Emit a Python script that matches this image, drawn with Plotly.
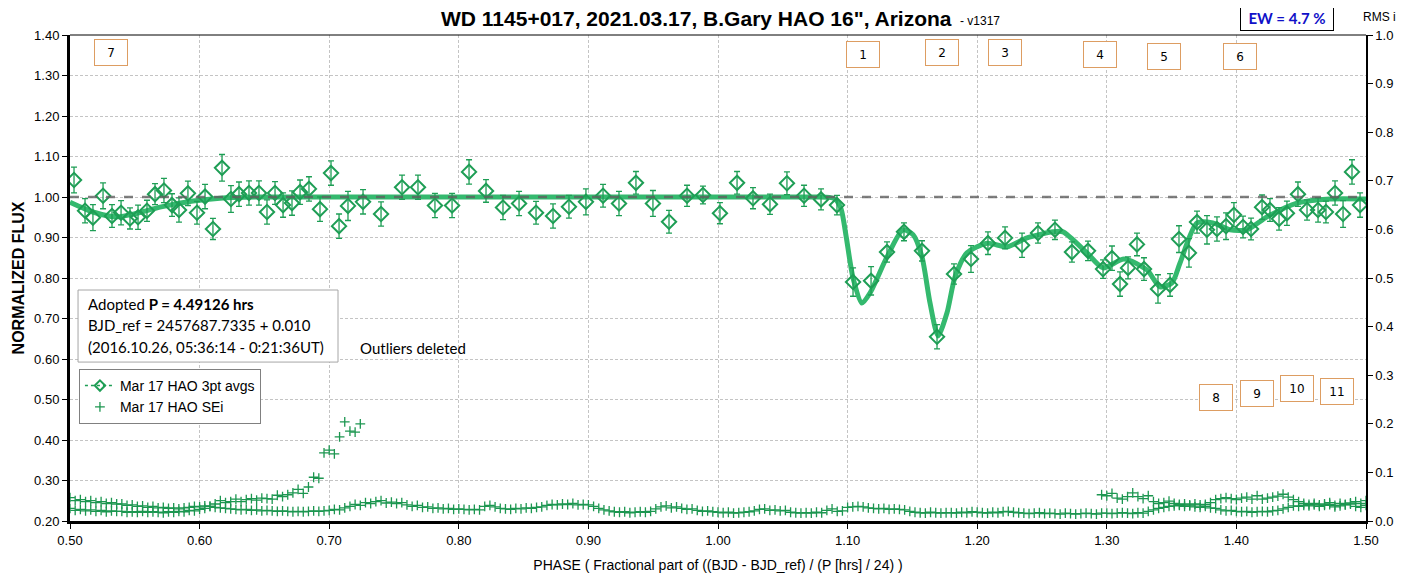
import numpy as np
import plotly.graph_objects as go

# ---------------- data ----------------
avg_phase = [0.5031, 0.5116, 0.5177, 0.5255, 0.5324, 0.5394, 0.5463, 0.5525, 0.5594, 0.5656,
             0.5725, 0.5787, 0.5841, 0.5910, 0.5980, 0.6042, 0.6103, 0.6173, 0.6242, 0.6304,
             0.6381, 0.6458, 0.6520, 0.6582, 0.6644, 0.6713, 0.6775, 0.6844, 0.6929, 0.7014,
             0.7076, 0.7145, 0.7261, 0.7400, 0.7562, 0.7685, 0.7816, 0.7948, 0.8079, 0.8210,
             0.8341, 0.8465, 0.8596, 0.8727, 0.8850, 0.8981, 0.9113, 0.9236, 0.9367, 0.9498,
             0.9622, 0.9761, 0.9884, 1.0015, 1.0147, 1.0270, 1.0401, 1.0532, 1.0664, 1.0795,
             1.0918, 1.1042, 1.1181, 1.1304, 1.1435, 1.1574, 1.1690, 1.1821, 1.1952, 1.2083,
             1.2215, 1.2346, 1.2469, 1.2600, 1.2731, 1.2855, 1.2971, 1.3040, 1.3102, 1.3164,
             1.3233, 1.3287, 1.3395, 1.3488, 1.3557, 1.3634, 1.3696, 1.3773, 1.3850, 1.3920,
             1.3981, 1.4051, 1.4113, 1.4198, 1.4259, 1.4329, 1.4390, 1.4475, 1.4545, 1.4630,
             1.4691, 1.4761, 1.4823, 1.4892, 1.4954]
avg_flux = [1.042, 0.966, 0.949, 1.003, 0.953, 0.961, 0.947, 0.950, 0.966, 1.007,
            1.016, 0.980, 0.968, 1.009, 0.961, 1.001, 0.921, 1.072, 0.995, 1.007,
            1.010, 1.010, 0.963, 1.010, 0.980, 0.985, 1.012, 1.020, 0.970, 1.059,
            0.928, 0.978, 0.988, 0.958, 1.024, 1.024, 0.979, 0.979, 1.062, 1.015,
            0.974, 0.984, 0.961, 0.953, 0.976, 0.988, 1.003, 0.984, 1.035, 0.984,
            0.939, 1.003, 1.005, 0.960, 1.035, 0.997, 0.982, 1.034, 1.003, 0.994,
            0.980, 0.790, 0.793, 0.864, 0.914, 0.867, 0.655, 0.810, 0.847, 0.886,
            0.899, 0.881, 0.911, 0.919, 0.864, 0.867, 0.822, 0.849, 0.785, 0.825,
            0.883, 0.822, 0.773, 0.783, 0.896, 0.862, 0.938, 0.919, 0.921, 0.928,
            0.956, 0.926, 0.921, 0.975, 0.968, 0.946, 0.960, 1.007, 0.968, 0.968,
            0.963, 1.010, 0.958, 1.062, 0.980]
avg_err = [0.032, 0.030, 0.032, 0.032, 0.028, 0.030, 0.026, 0.030, 0.026, 0.026,
           0.030, 0.028, 0.030, 0.030, 0.028, 0.030, 0.026, 0.033, 0.033, 0.030,
           0.030, 0.030, 0.030, 0.028, 0.030, 0.030, 0.030, 0.030, 0.030, 0.030,
           0.030, 0.036, 0.030, 0.030, 0.030, 0.030, 0.030, 0.030, 0.030, 0.028,
           0.030, 0.030, 0.028, 0.030, 0.028, 0.032, 0.028, 0.030, 0.028, 0.032,
           0.028, 0.026, 0.022, 0.026, 0.028, 0.026, 0.025, 0.028, 0.026, 0.026,
           0.024, 0.035, 0.035, 0.025, 0.022, 0.025, 0.030, 0.025, 0.033, 0.028,
           0.027, 0.030, 0.025, 0.024, 0.025, 0.024, 0.023, 0.030, 0.030, 0.027,
           0.028, 0.028, 0.035, 0.028, 0.033, 0.035, 0.027, 0.035, 0.030, 0.033,
           0.030, 0.027, 0.027, 0.030, 0.028, 0.028, 0.030, 0.030, 0.025, 0.030,
           0.027, 0.030, 0.033, 0.030, 0.030]

model_phase = [0.5000, 0.5177, 0.5363, 0.5517, 0.5694, 0.5949, 0.6157, 0.6466, 0.7000,
               0.7500, 0.8000, 0.8500, 0.9000, 0.9500, 1.0000, 1.0500, 1.0750, 1.0860,
               1.0903, 1.0950, 1.0990, 1.1042, 1.1111, 1.1173, 1.1304, 1.1427, 1.1505,
               1.1574, 1.1636, 1.1698, 1.1767, 1.1829, 1.1921, 1.2076, 1.2230, 1.2384,
               1.2585, 1.2662, 1.2847, 1.2971, 1.3133, 1.3310, 1.3410, 1.3503, 1.3565,
               1.3696, 1.3819, 1.3951, 1.4082, 1.4236, 1.4468, 1.4722, 1.5000]
model_flux = [0.987, 0.963, 0.951, 0.960, 0.975, 0.990, 0.997, 1.000, 1.000,
              1.000, 1.000, 1.000, 1.000, 1.000, 1.000, 1.000, 1.000, 0.999,
              0.995, 0.970, 0.900, 0.800, 0.738, 0.763, 0.852, 0.919, 0.907,
              0.852, 0.738, 0.657, 0.714, 0.803, 0.862, 0.886, 0.877, 0.899,
              0.914, 0.914, 0.862, 0.825, 0.847, 0.820, 0.778, 0.788, 0.837,
              0.936, 0.936, 0.919, 0.919, 0.951, 0.985, 0.995, 0.995]

# SE (RMS i) values, three passes through phase
sei_b_start, sei_b_end = 0.500, 1.500
sei_b = [0.048, 0.042, 0.044, 0.040, 0.042, 0.038, 0.040, 0.036, 0.038, 0.035,
         0.035, 0.032, 0.033, 0.030, 0.031, 0.028, 0.030, 0.027, 0.028, 0.026,
         0.027, 0.025, 0.027, 0.028, 0.030, 0.029, 0.031, 0.030, 0.028, 0.027,
         0.026, 0.025, 0.024, 0.023, 0.024, 0.022, 0.023, 0.021, 0.022, 0.021,
         0.020, 0.021, 0.020, 0.019, 0.020, 0.019, 0.020, 0.021, 0.020, 0.021,
         0.022, 0.024, 0.023, 0.027, 0.030, 0.034, 0.032, 0.038, 0.036, 0.040,
         0.042, 0.037, 0.039, 0.036, 0.038, 0.033, 0.030, 0.032, 0.028, 0.029,
         0.026, 0.027, 0.025, 0.026, 0.024, 0.025, 0.024, 0.023, 0.024, 0.023,
         0.030, 0.032, 0.029, 0.026, 0.025, 0.024, 0.026, 0.025, 0.027, 0.026,
         0.028, 0.029, 0.032, 0.034, 0.033, 0.035, 0.034, 0.036, 0.033, 0.034,
         0.033, 0.030, 0.026, 0.023, 0.021, 0.019, 0.018, 0.019, 0.017, 0.018,
         0.019, 0.018, 0.020, 0.025, 0.029, 0.031, 0.027, 0.029, 0.026, 0.024,
         0.025, 0.022, 0.020, 0.021, 0.019, 0.018, 0.017, 0.018, 0.016, 0.017,
         0.018, 0.019, 0.021, 0.024, 0.025, 0.022, 0.023, 0.021, 0.022, 0.018,
         0.017, 0.016, 0.017, 0.016, 0.018, 0.017, 0.022, 0.025, 0.020, 0.021,
         0.028, 0.029, 0.030, 0.029, 0.027, 0.026, 0.025, 0.026, 0.024, 0.025,
         0.024, 0.023, 0.020, 0.018, 0.017, 0.016, 0.018, 0.017, 0.016, 0.017,
         0.017, 0.016, 0.018, 0.017, 0.019, 0.018, 0.017, 0.016, 0.018, 0.017,
         0.019, 0.020, 0.018, 0.017, 0.016, 0.015, 0.016, 0.017, 0.015, 0.016,
         0.015, 0.014, 0.016, 0.015, 0.014, 0.015, 0.016, 0.015, 0.014, 0.016,
         0.016, 0.015, 0.016, 0.017, 0.016, 0.015, 0.017, 0.016, 0.020, 0.023,
         0.026, 0.028, 0.030, 0.031, 0.032, 0.030, 0.031, 0.029, 0.028, 0.030,
         0.027, 0.026, 0.023, 0.021, 0.022, 0.020, 0.019, 0.020, 0.018, 0.019,
         0.020, 0.019, 0.021, 0.022, 0.025, 0.028, 0.031, 0.030, 0.032, 0.031,
         0.033, 0.030, 0.032, 0.034, 0.029, 0.031, 0.033, 0.035, 0.030, 0.028, 0.032]
sei_a_start, sei_a_end = 1.296, 1.500
sei_a = [0.054, 0.052, 0.057, 0.047, 0.045, 0.050, 0.058, 0.050, 0.046, 0.052,
         0.040, 0.036, 0.038, 0.041, 0.036, 0.034, 0.035, 0.033, 0.035, 0.033,
         0.034, 0.038, 0.044, 0.046, 0.048, 0.046, 0.044, 0.047, 0.049, 0.045,
         0.052, 0.045, 0.047, 0.049, 0.051, 0.055, 0.049, 0.044, 0.040, 0.036,
         0.034, 0.036, 0.033, 0.035, 0.038, 0.032, 0.036, 0.034, 0.037, 0.040, 0.036, 0.042]
sei_c_start, sei_c_end = 0.500, 0.724
sei_c = [0.026, 0.022, 0.024, 0.021, 0.023, 0.020, 0.022, 0.019, 0.021, 0.020,
         0.020, 0.018, 0.019, 0.018, 0.020, 0.018, 0.019, 0.018, 0.017, 0.019,
         0.018, 0.020, 0.019, 0.022, 0.021, 0.024, 0.026, 0.030, 0.035, 0.042,
         0.038, 0.040, 0.045, 0.040, 0.044, 0.046, 0.043, 0.047, 0.046, 0.045,
         0.053, 0.050, 0.054, 0.058, 0.065, 0.057, 0.070, 0.090, 0.088, 0.140,
         0.146, 0.138, 0.173, 0.204, 0.185, 0.183, 0.200]

box_labels = ["7", "1", "2", "3", "4", "5", "6", "8", "9", "10", "11"]
box_phase = [0.5316, 1.1119, 1.1728, 1.2215, 1.2948, 1.3441, 1.4028, 1.3843, 1.4159, 1.4468, 1.4776]
box_flux = [1.358, 1.353, 1.356, 1.358, 1.351, 1.348, 1.346, 0.506, 0.514, 0.526, 0.521]

# ---------------- figure ----------------
DIAM = "#1e9e55"
CURVE = "#34b96e"
SEC = "#1c9650"
ARIAL = "Liberation Sans, Arial, sans-serif"
CAL = "Lato, sans-serif"

sei_x = (list(np.linspace(sei_b_start, sei_b_end, len(sei_b)))
         + list(np.linspace(sei_a_start, sei_a_end, len(sei_a)))
         + list(np.linspace(sei_c_start, sei_c_end, len(sei_c))))
sei_y = sei_b + sei_a + sei_c

fig = go.Figure()

fig.add_trace(go.Scatter(x=model_phase, y=model_flux, mode="lines",
                         line=dict(color=CURVE, width=5, shape="spline", smoothing=0.7),
                         showlegend=False, hoverinfo="skip"))

fig.add_trace(go.Scatter(x=avg_phase, y=avg_flux, mode="markers",
                         marker=dict(symbol="diamond-open", size=11, color=DIAM,
                                     line=dict(width=2, color=DIAM)),
                         error_y=dict(type="data", array=avg_err, color=DIAM,
                                      thickness=1.3, width=3),
                         showlegend=False))

fig.add_trace(go.Scatter(x=sei_x, y=sei_y, yaxis="y2", mode="markers",
                         marker=dict(symbol="cross-thin", size=7, color=SEC,
                                     line=dict(width=1.3, color=SEC)),
                         showlegend=False))

# legend entries
fig.add_trace(go.Scatter(x=[None], y=[None], mode="lines+markers",
                         name="Mar 17 HAO 3pt avgs",
                         line=dict(color=DIAM, width=1.5, dash="dot"),
                         marker=dict(symbol="diamond-open", size=8, color=DIAM,
                                     line=dict(width=2, color=DIAM))))
fig.add_trace(go.Scatter(x=[None], y=[None], mode="markers",
                         name="Mar 17 HAO SEi",
                         marker=dict(symbol="cross-thin", size=7, color=SEC,
                                     line=dict(width=1.3, color=SEC))))

shapes = [
    dict(type="line", xref="x", yref="y", x0=0.5, x1=1.5, y0=1.0, y1=1.0,
         line=dict(color="rgba(95,95,95,0.8)", width=2.5, dash="dash")),
    dict(type="line", xref="paper", yref="paper", x0=0, x1=1, y0=1, y1=1,
         line=dict(color="black", width=1)),
    dict(type="rect", xref="paper", yref="paper", x0=0.0062, x1=0.2068,
         y0=0.327, y1=0.4753, line=dict(color="#a6a6a6", width=1),
         fillcolor="white", layer="above"),
]

ann = []
for lab, px, py in zip(box_labels, box_phase, box_flux):
    ann.append(dict(x=px, y=py, xref="x", yref="y", text=lab, showarrow=False,
                    xanchor="center", yanchor="middle",
                    font=dict(family="DejaVu Sans, sans-serif", size=12, color="black"),
                    bordercolor="#dd9d62", borderwidth=1, borderpad=3,
                    bgcolor="white", width=26, height=19))

ann += [
    dict(xref="paper", yref="paper", x=0.2855, y=1.033, showarrow=False,
         xanchor="left", yanchor="middle", borderpad=0,
         text="<b>WD 1145+017, 2021.03.17, B.Gary HAO 16\", Arizona</b>",
         font=dict(family=ARIAL, size=21, color="black")),
    dict(xref="paper", yref="paper", x=0.6850, y=1.029, showarrow=False,
         xanchor="left", yanchor="middle",
         text="- v1317",
         font=dict(family=ARIAL, size=12, color="black")),
    dict(xref="paper", yref="paper", x=0.939, y=1.035, showarrow=False,
         xanchor="center", yanchor="middle",
         text="<b>EW = 4.7 %</b>", font=dict(family=CAL, size=15, color="#1010c8"),
         bordercolor="black", borderwidth=1, borderpad=3, width=86, height=18, bgcolor="white"),
    dict(xref="paper", yref="paper", x=1.0108, y=1.037, showarrow=False,
         xanchor="center", yanchor="middle",
         text="RMS i", font=dict(family=ARIAL, size=12, color="black")),
    dict(xref="paper", yref="paper", x=0.0123, y=0.4465, xanchor="left", yanchor="middle",
         showarrow=False, text="Adopted <b>P = 4.49126 hrs</b>",
         font=dict(family=CAL, size=15, color="black")),
    dict(xref="paper", yref="paper", x=0.0123, y=0.4033, xanchor="left", yanchor="middle",
         showarrow=False, text="BJD_ref = 2457687.7335 + 0.010",
         font=dict(family=CAL, size=15, color="black")),
    dict(xref="paper", yref="paper", x=0.0123, y=0.3580, xanchor="left", yanchor="middle",
         showarrow=False, text="(2016.10.26, 05:36:14 - 0:21:36UT)",
         font=dict(family=CAL, size=15, color="black")),
    dict(xref="paper", yref="paper", x=0.2222, y=0.356, xanchor="left", yanchor="middle",
         showarrow=False, text="Outliers deleted",
         font=dict(family=CAL, size=15, color="black")),
]

GRID = dict(showgrid=True, gridcolor="#c4c4c4", griddash="3px,2px", gridwidth=1)

fig.update_layout(
    width=1392, height=567,
    margin=dict(l=62, r=34, t=27, b=54, autoexpand=False),
    paper_bgcolor="white", plot_bgcolor="white",
    font=dict(family=ARIAL, size=13, color="black"),
    shapes=shapes, annotations=ann,
    showlegend=True,
    legend=dict(x=0.0069, y=0.3128, xanchor="left", yanchor="top",
                bgcolor="white", bordercolor="#808080", borderwidth=1,
                font=dict(family=ARIAL, size=14), tracegroupgap=4,
                itemwidth=30),
    xaxis=dict(range=[0.5, 1.5], dtick=0.1, tick0=0.5, tickformat=".2f", **GRID,
               showline=True, linecolor="black", linewidth=3, automargin=False,
               ticks="outside", ticklen=5, tickcolor="black",
               zeroline=False, tickfont=dict(size=13),
               title=dict(text="PHASE ( Fractional part of ((BJD - BJD_ref) / (P [hrs] / 24) )",
                          font=dict(size=14), standoff=14)),
    yaxis=dict(range=[0.2, 1.4], dtick=0.1, tick0=0.2, tickformat=".2f", **GRID,
               showline=True, linecolor="black", linewidth=3, automargin=False,
               ticks="outside", ticklen=5, tickcolor="black",
               zeroline=False, tickfont=dict(size=13),
               title=dict(text="<b>NORMALIZED FLUX</b>", font=dict(size=16), standoff=6)),
    yaxis2=dict(range=[0, 1.0], dtick=0.1, tick0=0, tickformat=".1f",
                overlaying="y", side="right", showgrid=False, automargin=False,
                showline=True, linecolor="black", linewidth=1.5,
                ticks="outside", ticklen=5, tickcolor="black",
                zeroline=False, tickfont=dict(size=13)),
)

fig.write_html("out.html")
